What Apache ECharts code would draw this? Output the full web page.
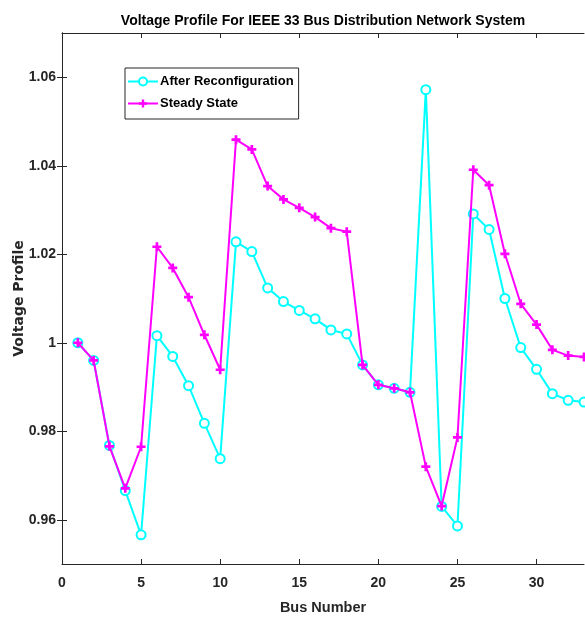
<!DOCTYPE html>
<html>
<head>
<meta charset="utf-8">
<script src="https://cdn.jsdelivr.net/npm/echarts@6/dist/echarts.min.js"></script>
<style>
html, body { margin: 0; padding: 0; background: #fff; }
#chart { width: 585px; height: 617px; }
</style>
</head>
<body>
<div id="chart"></div>
<script>
// bus numbers
let buses = [1, 2, 3, 4, 5, 6, 7, 8, 9, 10, 11, 12, 13, 14, 15, 16, 17,
    18, 19, 20, 21, 22, 23, 24, 25, 26, 27, 28, 29, 30, 31, 32, 33];

let afterReconfig = [1.0000, 0.9960, 0.9768, 0.9666, 0.9566, 1.0016, 0.9969, 0.9903, 0.9818, 0.9738,
    1.0228, 1.0206, 1.0124, 1.0093, 1.0073, 1.0054, 1.0029, 1.0020, 0.9950, 0.9905,
    0.9897, 0.9888, 1.0572, 0.9630, 0.9586, 1.0291, 1.0256, 1.0100, 0.9989, 0.9940,
    0.9885, 0.9870, 0.9866];

let steadyState = [1.0000, 0.9960, 0.9766, 0.9671, 0.9765, 1.0217, 1.0169, 1.0103, 1.0018, 0.9939,
    1.0459, 1.0437, 1.0354, 1.0324, 1.0305, 1.0284, 1.0259, 1.0251, 0.9950, 0.9905,
    0.9897, 0.9888, 0.9720, 0.9631, 0.9786, 1.0391, 1.0356, 1.0201, 1.0088, 1.0041,
    0.9984, 0.9971, 0.9968];

let xTicks = [0, 5, 10, 15, 20, 25, 30];
let yTicks = [0.96, 0.98, 1, 1.02, 1.04, 1.06];

let chart = echarts.init(document.getElementById('chart'));

const axisColor = '#262626';
const font = '"Liberation Sans", Arial, sans-serif';
const plusPath = 'path://M3.5,0H6.5V3.5H10V6.5H6.5V10H3.5V6.5H0V3.5H3.5Z';

function pairs(vals) {
    return buses.map((b, i) => [b, vals[i]]);
}

let option = {
    animation: false,
    title: {
        text: 'Voltage Profile For IEEE 33 Bus Distribution Network System',
        left: 318,
        top: 9,
        textAlign: 'center',
        textStyle: {
            color: '#000',
            fontFamily: font,
            fontWeight: 'bold',
            fontSize: 14
        }
    },
    grid: {
        left: 62,
        right: 1,
        top: 33,
        bottom: 53,
        outerBoundsMode: 'none'
    },
    legend: {
        orient: 'vertical',
        left: 125,
        top: 68,
        padding: [7, 5, 9, 2],
        itemGap: 9,
        itemWidth: 30,
        itemHeight: 10,
        borderColor: axisColor,
        borderWidth: 1,
        backgroundColor: '#fff',
        textStyle: {
            color: '#000',
            fontFamily: font,
            fontWeight: 'bold',
            fontSize: 13,
            padding: [0, 0, 0, -3]
        },
        data: ['After Reconfiguration', 'Steady State']
    },
    xAxis: [
        {
            type: 'value',
            min: 0,
            max: 33,
            name: 'Bus Number',
            nameLocation: 'middle',
            nameGap: 36,
            nameMoveOverlap: false,
            nameTextStyle: {
                color: axisColor,
                fontFamily: font,
                fontWeight: 'bold',
                fontSize: 14.5
            },
            axisLine: { show: true, lineStyle: { color: axisColor, width: 1 } },
            axisTick: { show: true, inside: true, length: 5, customValues: xTicks, lineStyle: { color: axisColor } },
            axisLabel: {
                customValues: xTicks,
                color: axisColor,
                fontFamily: font,
                fontWeight: 'bold',
                fontSize: 14,
                margin: 12
            },
            splitLine: { show: false }
        },
        {
            type: 'value',
            position: 'top',
            min: 0,
            max: 33,
            axisLine: { show: true, lineStyle: { color: axisColor, width: 1 } },
            axisTick: { show: true, inside: true, length: 5, customValues: xTicks, lineStyle: { color: axisColor } },
            axisLabel: { show: false },
            splitLine: { show: false }
        }
    ],
    yAxis: [
        {
            type: 'value',
            min: 0.95,
            max: 1.07,
            name: 'Voltage Profile',
            nameLocation: 'middle',
            nameGap: 36,
            nameMoveOverlap: false,
            nameTextStyle: {
                color: axisColor,
                fontFamily: '"DejaVu Sans", "Liberation Sans", sans-serif',
                fontWeight: 'bold',
                fontSize: 14
            },
            axisLine: { show: true, lineStyle: { color: axisColor, width: 1 } },
            axisTick: { show: true, inside: true, length: 5, customValues: yTicks, lineStyle: { color: axisColor } },
            axisLabel: {
                customValues: yTicks,
                color: axisColor,
                fontFamily: font,
                fontWeight: 'bold',
                fontSize: 14,
                margin: 6
            },
            splitLine: { show: false }
        },
        {
            type: 'value',
            position: 'right',
            min: 0.95,
            max: 1.07,
            axisLine: { show: true, lineStyle: { color: axisColor, width: 1 } },
            axisTick: { show: true, inside: true, length: 5, customValues: yTicks, lineStyle: { color: axisColor } },
            axisLabel: { show: false },
            splitLine: { show: false }
        }
    ],
    series: [
        {
            name: 'After Reconfiguration',
            type: 'line',
            data: pairs(afterReconfig),
            symbol: 'emptyCircle',
            symbolSize: 9,
            showAllSymbol: true,
            lineStyle: { color: '#00ffff', width: 2 },
            itemStyle: { color: '#00ffff', borderColor: '#00ffff', borderWidth: 2 },
            z: 2
        },
        {
            name: 'Steady State',
            type: 'line',
            data: pairs(steadyState),
            symbol: plusPath,
            symbolSize: 9,
            showAllSymbol: true,
            lineStyle: { color: '#ff00ff', width: 2 },
            itemStyle: { color: '#ff00ff' },
            z: 3
        }
    ]
};

option && chart.setOption(option);
</script>
</body>
</html>
